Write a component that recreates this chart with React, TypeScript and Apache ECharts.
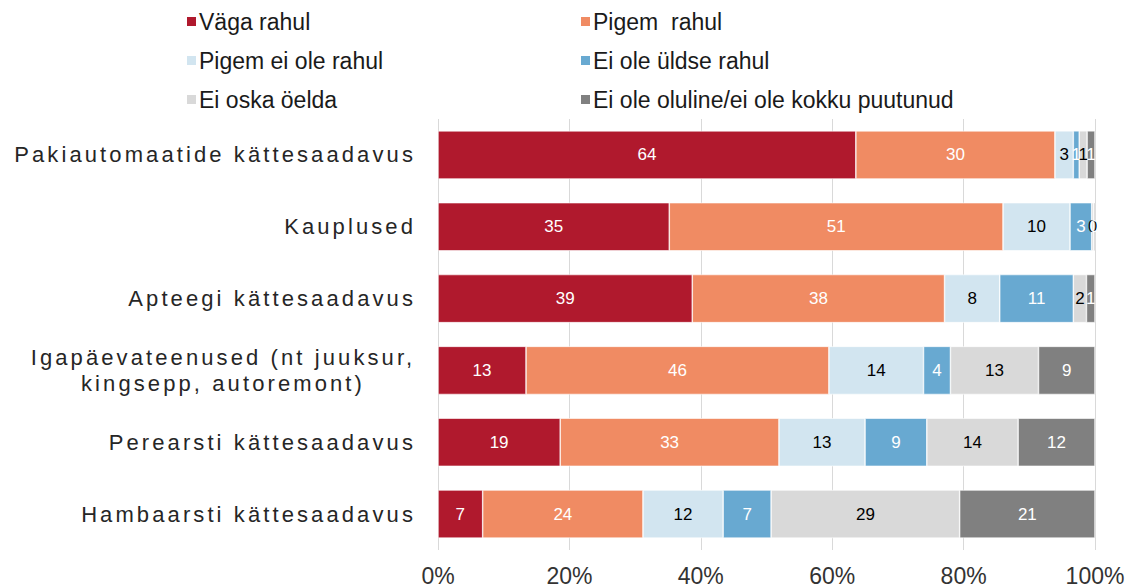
import React, { useEffect, useRef } from "react";
import * as echarts from "echarts";

const categories = [
  "Pakiautomaatide kättesaadavus",
  "Kauplused",
  "Apteegi kättesaadavus",
  "Igapäevateenused (nt juuksur,\nkingsepp, autoremont)",
  "Perearsti kättesaadavus",
  "Hambaarsti kättesaadavus",
];

const seriesNames = [
  "Väga rahul",
  "Pigem  rahul",
  "Pigem ei ole rahul",
  "Ei ole üldse rahul",
  "Ei oska öelda",
  "Ei ole oluline/ei ole kokku puutunud",
];

const vagaRahul = [63.6, 35.2, 38.7, 13.4, 18.6, 6.8];
const pigemRahul = [30.3, 50.8, 38.4, 46.1, 33.3, 24.4];
const pigemEiOleRahul = [2.8, 10.2, 8.4, 14.4, 13.1, 12.2];
const eiOleUldseRahul = [0.9, 3.3, 11.2, 4.1, 9.4, 7.3];
const eiOskaOelda = [1.2, 0.3, 2.0, 13.4, 13.9, 28.7];
const eiOleOluline = [1.2, 0.2, 1.3, 8.6, 11.7, 20.6];

const xTicks = [0, 20, 40, 60, 80, 100];

const colors = ["#B0192D", "#F08B63", "#D2E5F0", "#68A9D1", "#D9D9D9", "#808080"];
const labelColors = ["#ffffff", "#ffffff", "#000000", "#ffffff", "#000000", "#ffffff"];

const allValues = [vagaRahul, pigemRahul, pigemEiOleRahul, eiOleUldseRahul, eiOskaOelda, eiOleOluline];

export default function App() {
  const ref = useRef<HTMLDivElement>(null);
  useEffect(() => {
    if (!ref.current) return;
    const chart = echarts.init(ref.current, null, { renderer: "svg" });
    const narrow = "'Liberation Sans Narrow', 'Liberation Sans', Arial, sans-serif";
    const sans = "'Liberation Sans', Arial, sans-serif";
    const legendBase = {
      orient: "vertical",
      top: 5,
      itemWidth: 11,
      itemHeight: 11,
      itemGap: 16,
      icon: "rect",
      textStyle: { fontFamily: narrow, fontSize: 23, color: "#1a1a1a", padding: [0, 0, 0, -3] },
      selectedMode: false,
    };
    chart.setOption({
      animation: false,
      legend: [
        { ...legendBase, left: 180, data: [seriesNames[0], seriesNames[2], seriesNames[4]] },
        { ...legendBase, left: 574, data: [seriesNames[1], seriesNames[3], seriesNames[5]] },
      ],
      grid: { left: 438, right: 34, top: 119, bottom: 38, containLabel: false },
      xAxis: {
        type: "value",
        min: 0,
        max: 100,
        interval: 20,
        axisLabel: {
          formatter: (v: number) => (xTicks.includes(v) ? v + "%" : ""),
          fontFamily: narrow,
          fontSize: 23,
          color: "#333333",
          margin: 14,
        },
        splitLine: { show: true, lineStyle: { color: "#D9D9D9", width: 1 } },
        axisLine: { show: false },
        axisTick: { show: false },
      },
      yAxis: {
        type: "category",
        inverse: true,
        data: categories.map((c) =>
          c.includes("\n")
            ? { value: c, textStyle: { align: "center", padding: [0, 386, 0, 0] } }
            : c
        ),
        axisLine: { show: false },
        axisTick: { show: false },
        axisLabel: {
          fontFamily: sans,
          fontSize: 22,
          color: "#262626",
          margin: 22,
          lineHeight: 26,
        },
      },
      series: seriesNames.map((name, i) => ({
        name,
        type: "bar",
        stack: "total",
        barCategoryGap: "33%",
        data: allValues[i],
        itemStyle: { color: colors[i], borderColor: "#ffffff", borderWidth: 0.6 },
        label: {
          show: true,
          position: "inside",
          formatter: (p: any) => String(Math.round(p.value)),
          color: labelColors[i],
          fontFamily: sans,
          fontSize: 17,
        },
      })),
    });
    const labelSet = new Set<string>();
    categories.forEach((c) => c.split("\n").forEach((l) => labelSet.add(l.trim())));
    ref.current.querySelectorAll("text").forEach((t) => {
      const s = (t.textContent || "").trim();
      if (labelSet.has(s)) {
        (t as SVGTextElement).style.letterSpacing = "3.1px";
      }
    });
    return () => chart.dispose();
  }, []);
  return <div ref={ref} style={{ width: 1129, height: 588, position: "absolute", left: 0, top: 0 }} />;
}
